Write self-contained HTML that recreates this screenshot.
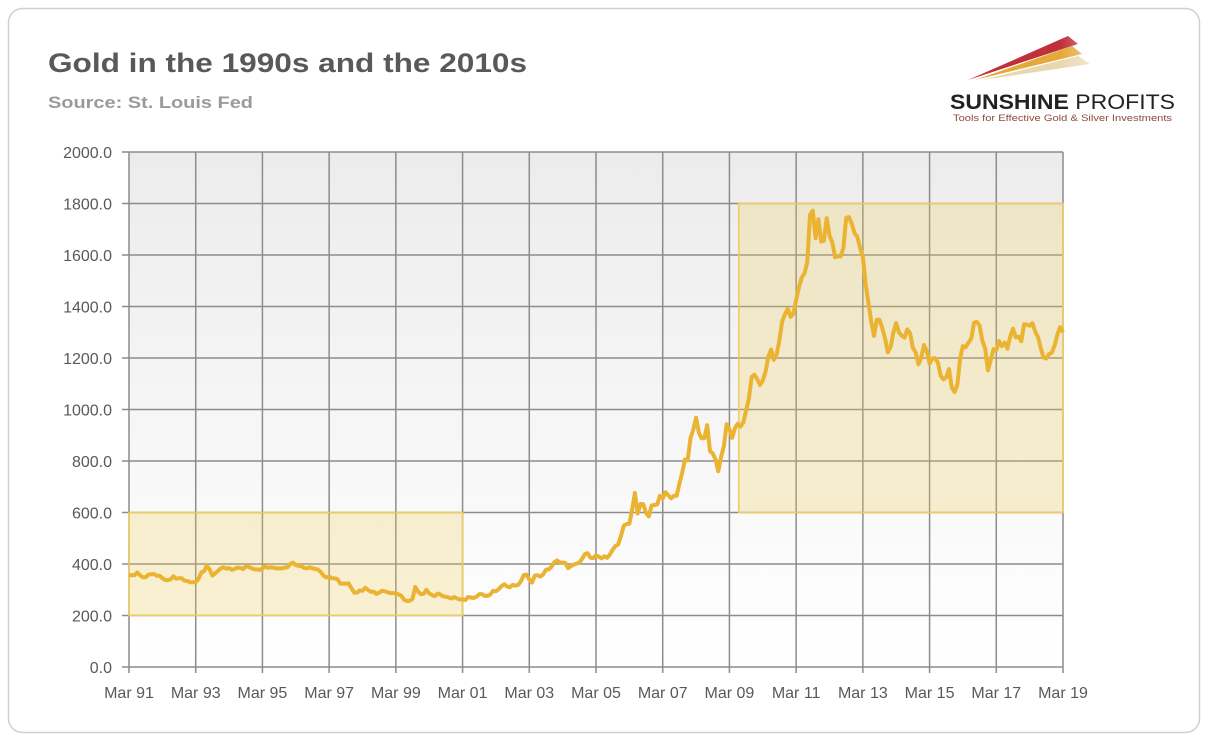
<!DOCTYPE html>
<html><head><meta charset="utf-8"><style>
body{margin:0;background:#fff;width:1217px;height:742px;overflow:hidden;font-family:"Liberation Sans",sans-serif}
</style></head><body>
<svg width="1217" height="742" style="position:absolute;left:0;top:0">
<defs><linearGradient id="bg" x1="0" y1="0" x2="0" y2="1"><stop offset="0" stop-color="#ececec"/><stop offset="1" stop-color="#ffffff"/></linearGradient>
<linearGradient id="fade" x1="0" y1="0" x2="1" y2="0"><stop offset="0" stop-color="#fff" stop-opacity="0"/><stop offset="1" stop-color="#fff"/></linearGradient></defs>
<rect x="8.5" y="8.5" width="1191" height="724" rx="14" fill="#fff" stroke="#cfcfcf" stroke-width="1.5"/>
<text x="48" y="72" font-size="27" font-weight="bold" fill="#595959" textLength="479" lengthAdjust="spacingAndGlyphs">Gold in the 1990s and the 2010s</text>
<text x="48" y="108" font-size="17" font-weight="bold" fill="#9a9a9a" textLength="205" lengthAdjust="spacingAndGlyphs">Source: St. Louis Fed</text>
<g>
<polygon points="968,80 1068,36 1078,44" fill="#c0303a"/>
<polygon points="975,80 1072,46 1082,54" fill="#e6a838"/>
<polygon points="982,80 1078,56 1090,64" fill="#e8d8b0"/>
<rect x="1060" y="30" width="80" height="40" fill="url(#fade)"/>
<text x="950" y="109" font-size="21" font-weight="bold" fill="#222" textLength="225" lengthAdjust="spacingAndGlyphs">SUNSHINE <tspan font-weight="normal">PROFITS</tspan></text>
<text x="953" y="121" font-size="9" fill="#8a4a3a" textLength="219" lengthAdjust="spacingAndGlyphs">Tools for Effective Gold &amp; Silver Investments</text>
</g>
<rect x="129" y="152" width="934" height="515" fill="url(#bg)"/>
<g id="grid"></g>
<g id="boxes"></g>
<path id="line" fill="none" stroke="#ebb332" stroke-width="4" stroke-linejoin="round"/>
<g id="labels"></g>
</svg>
<script>
const yTicks=[0,200,400,600,800,1000,1200,1400,1600,1800,2000];
const xTickLabels=["Mar 91","Mar 93","Mar 95","Mar 97","Mar 99","Mar 01","Mar 03","Mar 05","Mar 07","Mar 09","Mar 11","Mar 13","Mar 15","Mar 17","Mar 19"];
const boxStarts=[1991.17,2009.45];
const boxEnds=[2001.17,2019.17];
const boxLows=[200,600];
const boxHighs=[600,1800];
const startYear=1991.17;
const gold=[356,357,357,367,356,348,349,359,360,361,
354,354,345,338,337,341,352,343,345,345,335,334,
329,329,330,342,367,372,393,379,355,364,373,383,
387,382,384,377,381,386,385,380,391,389,384,379,
379,377,382,391,385,387,386,383,383,383,386,387,
400,405,396,393,392,385,383,387,383,381,378,369,
355,347,352,344,344,341,324,324,323,325,306,289,
289,297,296,308,299,292,293,284,289,296,294,291,
287,287,286,282,276,261,256,257,265,311,293,283,
284,300,286,280,275,285,282,274,273,270,266,272,
266,262,263,260,272,270,268,273,283,283,276,276,
282,296,294,302,314,321,313,310,319,316,319,333,
357,359,340,328,355,356,351,360,378,379,389,407,
414,405,406,404,384,392,398,401,406,420,439,442,
424,423,434,428,422,430,424,437,456,470,476,510,
549,555,557,610,676,596,633,632,598,585,627,629,
631,665,654,679,667,655,665,665,712,754,806,803,
889,922,968,909,888,889,939,839,829,806,760,816,
858,943,924,890,928,945,934,949,996,1043,1127,1135,
1118,1095,1113,1148,1205,1233,1193,1215,1271,1343,1370,1391,
1360,1372,1424,1474,1512,1529,1573,1756,1772,1665,1739,1652,
1656,1743,1675,1649,1591,1596,1594,1627,1744,1747,1722,1685,
1671,1627,1593,1487,1414,1343,1286,1348,1349,1316,1275,1222,
1244,1300,1336,1299,1287,1279,1311,1296,1239,1222,1176,1201,
1251,1227,1179,1198,1199,1182,1131,1117,1125,1157,1085,1068,
1097,1199,1246,1242,1260,1276,1337,1340,1326,1266,1236,1152,
1192,1234,1231,1266,1246,1260,1236,1283,1314,1280,1283,1265,
1331,1330,1325,1335,1303,1282,1238,1202,1198,1215,1221,1250,
1291,1320,1300];
const X0=129,X1=1063,Y0=667,Y1=152;
const xs=t=>X0+(t-startYear)/28*(X1-X0);
const ys=v=>Y0-v/2000*(Y0-Y1);
const NS="http://www.w3.org/2000/svg";
function mk(tag,attrs,parent){const e=document.createElementNS(NS,tag);for(const k in attrs)e.setAttribute(k,attrs[k]);document.getElementById(parent).appendChild(e);return e;}
yTicks.forEach(v=>{
 const l=mk('line',{x1:122,x2:X1,y1:ys(v),y2:ys(v),stroke:'#8c8c8c','stroke-width':1.5},'grid');
 
 
 const t=mk('text',{x:112,y:ys(v)+6,'text-anchor':'end','font-size':16,fill:'#595959'},'labels');
 t.textContent=v.toFixed(1);
 
 
});
xTickLabels.forEach((s,i)=>{
 const x=xs(startYear+i*2);
 const l=mk('line',{x1:x,x2:x,y1:Y1,y2:Y0+6,stroke:'#8c8c8c','stroke-width':1.5},'grid');
 
 
 const t=mk('text',{x:x,y:698,'text-anchor':'middle','font-size':16,fill:'#595959'},'labels');
 t.textContent=s;
 
 
});
boxStarts.forEach((b,i)=>{
 const r=mk('rect',{x:xs(b),y:ys(boxHighs[i]),width:xs(boxEnds[i])-xs(b),height:ys(boxLows[i])-ys(boxHighs[i]),fill:'rgba(240,200,80,0.25)',stroke:'#f0cc60','stroke-width':1.5},'boxes');
 
 
});
document.getElementById('line').setAttribute('d',gold.map((v,i)=>(i?'L':'M')+xs(startYear+i/12).toFixed(1)+','+ys(v).toFixed(1)).join(''));
</script>
</body></html>
